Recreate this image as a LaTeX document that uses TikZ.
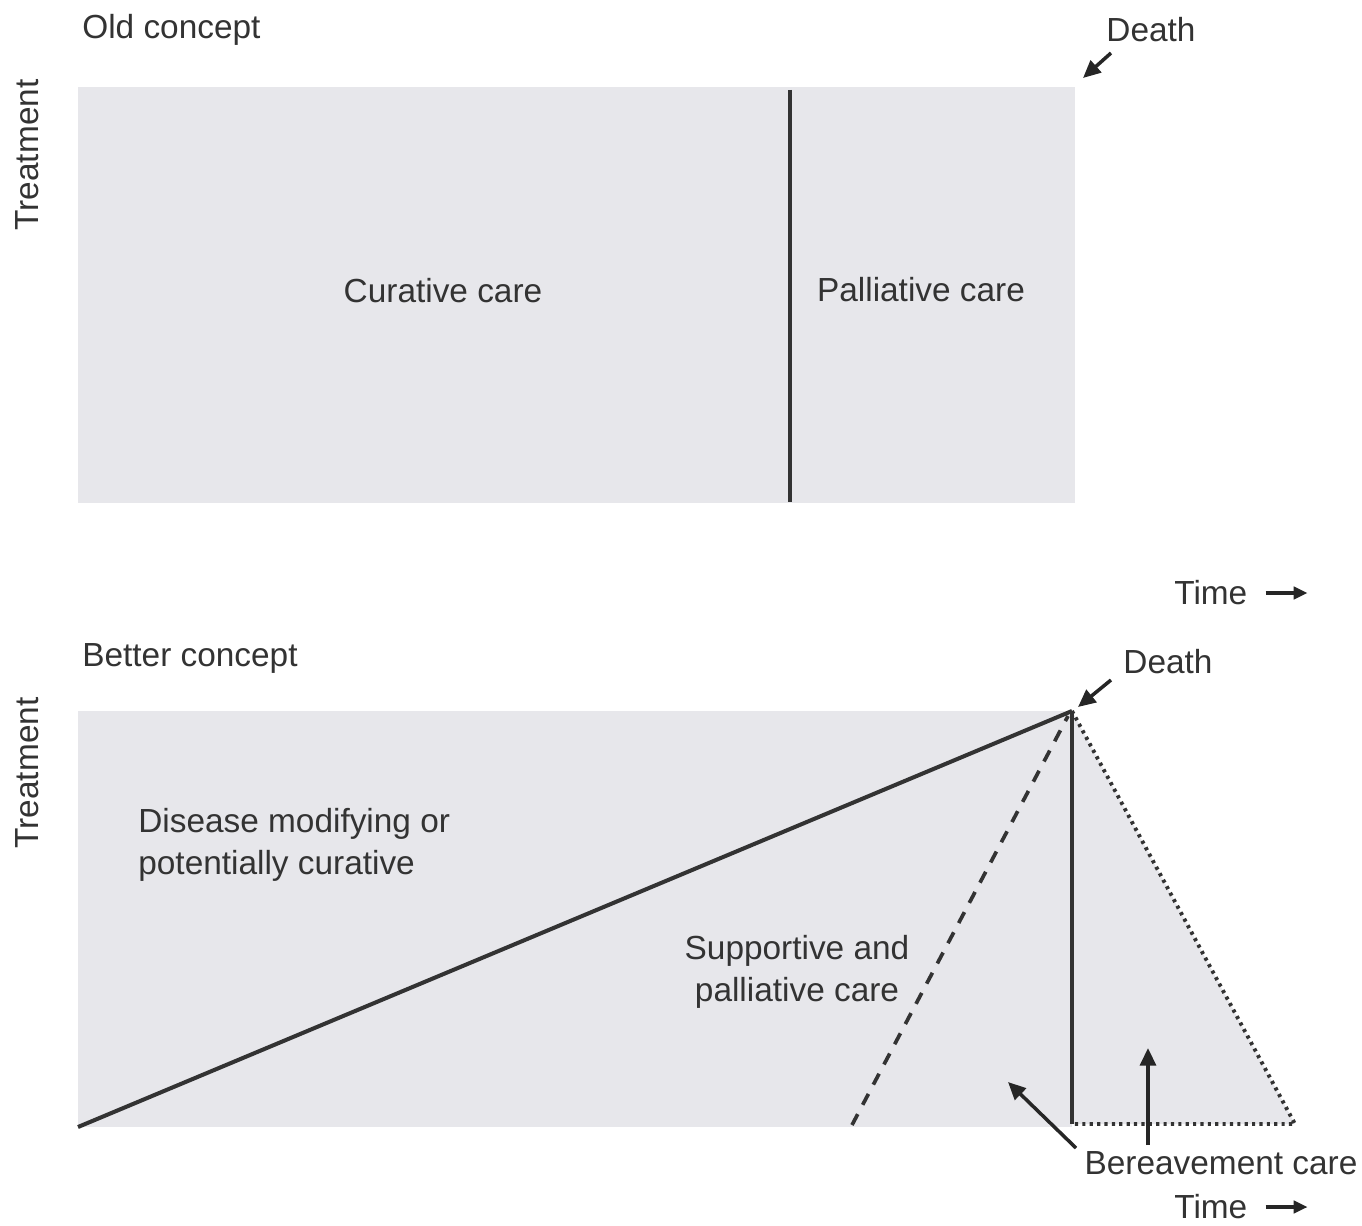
\documentclass[tikz,border=0pt]{standalone}
\usepackage{fontspec}
\setmainfont{Liberation Sans}
\usetikzlibrary{arrows.meta, positioning}
\definecolor{boxgray}{HTML}{E7E7EB}
\definecolor{ink}{HTML}{333333}

\begin{document}
\begin{tikzpicture}[x=0.02cm, y=-0.02cm,
        every node/.style={inner sep=0pt, text=ink, font=\fontsize{19}{24}\selectfont},
        careline/.style={line width=2.3pt, draw=black!80},
        dottedline/.style={line width=2.2pt, draw=black!80, dash pattern=on 1.8pt off 2.4pt},
        dashedline/.style={line width=2.1pt, draw=black!80, dash pattern=on 7pt off 6pt},
        pointer/.style={-{Triangle[length=10pt,width=9pt]}, line width=2pt, draw=black!85},
        timearrow/.style={-{Triangle[length=8pt,width=7pt]}, line width=2pt, draw=black!85}]
        \useasboundingbox (0,0) rectangle (1362,1226);
        % old concept
        \coordinate (oldNW) at (78,87);
        \coordinate (oldSE) at (1075,503);
        \coordinate (splitT) at (790,90);
        \coordinate (splitB) at (790,502);
        \fill [boxgray] (oldNW) rectangle (oldSE);
        \draw [careline] (splitT) -- (splitB);
        \node [anchor=west] (oldtitle) at (82,30) {Old concept};
        \node [rotate=90] (oldaxis) at (27,155) {Treatment};
        \node (curative) at (443,291) {Curative care};
        \node (palliative) at (921,290) {Palliative care};
        \node (olddeath) at (1151,30) {Death};
        \coordinate (olddeathtip) at (1083,78);
        \draw [pointer] (1111,53) -- (olddeathtip);
        \node [anchor=west] (oldtime) at (1174,593) {Time};
        \draw [timearrow] ([xshift=0.36cm]oldtime.east) -- ++(42,0);
        % better concept
        \coordinate (newNW) at (78,711);
        \coordinate (newSW) at (78,1127);
        \coordinate (deathpt) at (1072,711);
        \coordinate (deathfoot) at (1072,1124);
        \coordinate (newSE) at (1072,1127);
        \coordinate (griefend) at (1295,1124);
        \coordinate (dashlow) at (852,1125);
        \coordinate (dashhigh) at (1068,716);
        \fill [boxgray] (newNW) rectangle (newSE);
        \fill [boxgray] (deathpt) -- (griefend) -- (deathfoot) -- cycle;
        \draw [careline] (newSW) -- (deathpt);
        \draw [careline] (deathpt) -- (deathfoot);
        \draw [dottedline] (deathpt) -- (griefend) -- (deathfoot);
        \draw [dashedline] (dashlow) -- (dashhigh);
        \node [anchor=west] (newtitle) at (82,658) {Better concept};
        \node [rotate=90] (newaxis) at (27,773) {Treatment};
        \node [anchor=north west, align=left] (disease) at (138,808) {Disease modifying or\\potentially curative};
        \node [anchor=north, align=center] (supportive) at (797,935) {Supportive and\\palliative care};
        \node (newdeath) at (1168,662) {Death};
        \draw [pointer] (1111,680) -- ([shift={(6,-4)}]deathpt);
        \node (bereavement) at (1221,1163) {Bereavement care};
        \coordinate (suppcare) at (1008,1082);
        \coordinate (griefcare) at (1148,1048);
        \draw [pointer] (1076,1148) -- (suppcare);
        \draw [pointer] (1148,1145) -- (griefcare);
        \node [anchor=west] (newtime) at (1174,1207) {Time};
        \draw [timearrow] ([xshift=0.36cm]newtime.east) -- ++(42,0);
\end{tikzpicture}
\end{document}
